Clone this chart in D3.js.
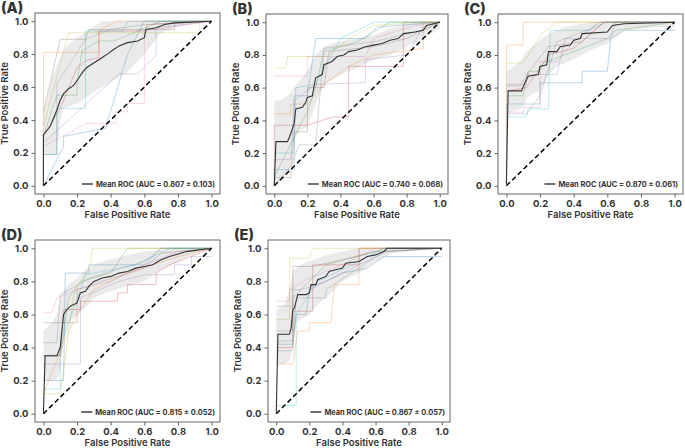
<!DOCTYPE html>
<html>
<head>
<meta charset="utf-8">
<script src="https://cdn.jsdelivr.net/npm/d3@7"></script>
<style>
  body { margin: 0; background: #fff; }
  svg { display: block; }
  text { font-family: Inter, "Liberation Sans", sans-serif; fill: #333; }
</style>
</head>
<body>
<svg id="chart" width="685" height="448"></svg>
<script>
// ---- data ----
var panelNames = ["(A)", "(B)", "(C)", "(D)", "(E)"];
var aucLabels = ["0.807 ± 0.103", "0.740 ± 0.068", "0.870 ± 0.061", "0.815 ± 0.052", "0.867 ± 0.057"];
var tickValues = [0, 0.2, 0.4, 0.6, 0.8, 1.0];
var foldColors = ["#1f77b4", "#ff7f0e", "#2ca02c", "#d62728", "#9467bd", "#8c564b", "#e377c2", "#7f7f7f", "#bcbd22", "#17becf"];

// common fpr grid for the ±1 std band
var bandFpr = [0, 0.02, 0.05, 0.08, 0.1, 0.12, 0.15, 0.2, 0.25, 0.3, 0.35, 0.4, 0.5, 0.6, 0.7, 0.8, 0.9, 1.0];
var bandHiA = [0.45, 0.52, 0.66, 0.73, 0.78, 0.82, 0.86, 0.9, 0.93, 0.97, 1, 1, 1, 1, 1, 1, 1, 1];
var bandLoA = [0.19, 0.19, 0.19, 0.19, 0.4, 0.47, 0.48, 0.5, 0.53, 0.57, 0.6, 0.63, 0.69, 0.8, 0.93, 0.97, 0.99, 1];
var bandHiB = [0.52, 0.52, 0.53, 0.55, 0.57, 0.6, 0.64, 0.7, 0.8, 0.85, 0.87, 0.88, 0.9, 0.92, 0.96, 0.99, 1, 1];
var bandLoB = [0.0, 0.02, 0.05, 0.08, 0.12, 0.28, 0.33, 0.36, 0.5, 0.62, 0.65, 0.68, 0.72, 0.77, 0.8, 0.85, 0.9, 0.96];
var bandHiC = [0.7, 0.71, 0.73, 0.76, 0.79, 0.82, 0.85, 0.89, 0.93, 0.95, 0.97, 0.98, 1, 1, 1, 1, 1, 1];
var bandLoC = [0.44, 0.45, 0.46, 0.47, 0.49, 0.53, 0.56, 0.58, 0.68, 0.73, 0.75, 0.77, 0.83, 0.87, 0.95, 0.96, 0.97, 0.97];
var bandHiD = [0.5, 0.52, 0.55, 0.6, 0.7, 0.74, 0.78, 0.82, 0.87, 0.9, 0.92, 0.93, 0.96, 0.98, 0.99, 1, 1, 1];
var bandLoD = [0.2, 0.2, 0.2, 0.21, 0.25, 0.45, 0.55, 0.6, 0.64, 0.7, 0.72, 0.74, 0.77, 0.8, 0.87, 0.92, 0.97, 1];
var bandHiE = [0.62, 0.64, 0.66, 0.75, 0.86, 0.88, 0.9, 0.92, 0.94, 0.96, 0.97, 0.98, 1, 1, 1, 1, 1, 1];
var bandLoE = [0.3, 0.3, 0.3, 0.32, 0.4, 0.55, 0.57, 0.6, 0.66, 0.7, 0.75, 0.8, 0.85, 0.92, 0.97, 0.98, 0.99, 1];

var meanA = [[0,0],[0,0.31],[0.04,0.36],[0.08,0.46],[0.1,0.52],[0.12,0.56],[0.15,0.59],[0.18,0.61],[0.2,0.64],[0.22,0.67],[0.24,0.7],[0.26,0.72],[0.29,0.74],[0.32,0.76],[0.35,0.78],[0.38,0.8],[0.42,0.83],[0.45,0.85],[0.5,0.87],[0.56,0.88],[0.6,0.9],[0.61,0.95],[0.67,0.96],[0.72,0.98],[0.78,0.99],[1,1]];
var meanB = [[0,0],[0.01,0.27],[0.08,0.27],[0.1,0.32],[0.12,0.38],[0.13,0.47],[0.17,0.48],[0.19,0.51],[0.2,0.54],[0.23,0.55],[0.25,0.66],[0.29,0.68],[0.3,0.74],[0.35,0.76],[0.38,0.79],[0.42,0.8],[0.45,0.82],[0.5,0.83],[0.55,0.85],[0.6,0.86],[0.65,0.87],[0.7,0.89],[0.75,0.9],[0.78,0.93],[0.85,0.94],[0.9,0.95],[0.92,0.98],[1,1]];
var meanC = [[0,0.01],[0.01,0.58],[0.09,0.58],[0.11,0.63],[0.13,0.67],[0.19,0.68],[0.2,0.73],[0.24,0.74],[0.25,0.82],[0.3,0.82],[0.32,0.85],[0.38,0.86],[0.4,0.89],[0.44,0.9],[0.45,0.93],[0.6,0.94],[0.63,0.98],[0.7,0.99],[1,1]];
var meanD = [[0,0],[0.01,0.35],[0.08,0.35],[0.1,0.4],[0.11,0.5],[0.12,0.6],[0.14,0.63],[0.16,0.65],[0.2,0.67],[0.22,0.73],[0.25,0.74],[0.27,0.77],[0.3,0.8],[0.35,0.82],[0.4,0.83],[0.45,0.85],[0.5,0.86],[0.55,0.88],[0.6,0.89],[0.65,0.9],[0.7,0.93],[0.75,0.95],[0.85,0.98],[1,1]];
var meanE = [[0,0],[0.01,0.48],[0.08,0.48],[0.09,0.52],[0.1,0.63],[0.11,0.64],[0.13,0.72],[0.18,0.72],[0.2,0.73],[0.21,0.78],[0.24,0.78],[0.25,0.81],[0.3,0.83],[0.32,0.86],[0.36,0.87],[0.4,0.88],[0.42,0.91],[0.5,0.92],[0.55,0.95],[0.6,0.96],[0.65,0.98],[0.67,1],[1,1]];

// fold curves, one per tab10 colour
var foldsA = [
  [[0,0],[0.12,0.24],[0.12,0.3],[0.37,0.35],[0.5,0.8],[0.6,1],[1,1]],
  [[0,0],[0,0.81],[0.33,0.81],[0.33,0.94],[0.43,1],[1,1]],
  [[0,0.3],[0.08,0.55],[0.2,0.55],[0.2,0.62],[0.23,0.82],[0.33,0.88],[0.42,0.88],[0.7,1],[1,1]],
  [[0,0.3],[0.1,0.47],[0.2,0.72],[0.25,0.76],[0.33,0.78],[0.33,0.94],[0.6,0.94],[0.62,0.98],[1,1]],
  [[0,0.26],[0.45,0.68],[0.56,0.68],[0.67,0.79],[0.67,0.96],[1,1]],
  [[0,0.45],[0.1,0.89],[0.25,0.89],[0.27,0.95],[0.78,0.95],[0.78,1],[1,1]],
  [[0,0.24],[0.26,0.38],[0.43,0.38],[0.43,0.45],[0.5,0.45],[0.5,0.5],[0.6,0.5],[0.6,0.94],[1,1]],
  [[0,0.19],[0.08,0.19],[0.08,0.62],[0.25,0.89],[0.4,0.95],[0.6,0.98],[1,1]],
  [[0,0.36],[0.15,0.93],[0.93,0.93],[0.93,1],[1,1]],
  [[0,0.19],[0.08,0.19],[0.08,0.47],[0.25,0.47],[0.25,0.94],[0.47,0.94],[0.5,1],[1,1]]
];
var foldsB = [
  [[0,0],[0,0.1],[0.12,0.1],[0.12,0.55],[0.2,0.55],[0.25,0.9],[0.55,0.9],[0.62,0.97],[1,1]],
  [[0,0.44],[0.1,0.44],[0.1,0.5],[0.2,0.5],[0.3,0.62],[0.45,0.73],[0.6,0.8],[0.9,0.84],[0.9,1],[1,1]],
  [[0,0.05],[0.12,0.3],[0.2,0.45],[0.25,0.6],[0.3,0.82],[0.5,0.88],[0.7,1],[1,1]],
  [[0,0],[0,0.37],[0.2,0.37],[0.35,0.42],[0.45,0.42],[0.45,0.73],[0.78,0.73],[0.78,1],[1,1]],
  [[0,0.16],[0.1,0.16],[0.12,0.52],[0.25,0.62],[0.55,0.63],[0.55,0.77],[0.8,0.8],[0.9,0.97],[1,1]],
  [[0,0.05],[0.1,0.05],[0.12,0.33],[0.2,0.33],[0.2,0.6],[0.3,0.6],[0.33,0.82],[0.6,0.85],[0.8,0.9],[1,1]],
  [[0,0.67],[0.2,0.67],[0.2,0.79],[0.55,0.79],[0.6,0.9],[0.85,0.98],[1,1]],
  [[0,0],[0.1,0.12],[0.15,0.25],[0.25,0.25],[0.3,0.84],[0.6,0.88],[0.9,0.95],[1,1]],
  [[0,0.72],[0.07,0.72],[0.08,0.79],[0.32,0.79],[0.45,0.9],[0.6,0.98],[0.9,1],[1,1]],
  [[0,0.2],[0.12,0.2],[0.13,0.6],[0.25,0.62],[0.4,0.9],[0.6,1],[1,1]]
];
var foldsC = [
  [[0,0],[0,0.5],[0.2,0.5],[0.2,0.63],[0.45,0.63],[0.45,0.7],[0.6,0.7],[0.62,0.9],[0.7,0.95],[1,0.95]],
  [[0,0],[0,0.86],[0.1,0.86],[0.1,1],[1,1]],
  [[0,0.55],[0.1,0.55],[0.13,0.7],[0.2,0.7],[0.22,0.75],[0.6,0.9],[0.65,0.95],[1,1]],
  [[0,0.58],[0.12,0.6],[0.25,0.8],[0.4,0.84],[0.58,1],[1,1]],
  [[0,0.62],[0.12,0.62],[0.12,0.68],[0.3,0.68],[0.35,0.9],[0.62,0.9],[0.65,1],[1,1]],
  [[0,0.61],[0.08,0.61],[0.15,0.72],[0.25,0.85],[0.45,0.88],[0.58,1],[1,1]],
  [[0,0.45],[0.1,0.45],[0.1,0.48],[0.2,0.48],[0.2,0.76],[0.3,0.76],[0.4,0.88],[0.55,1],[1,1]],
  [[0,0.44],[0.12,0.44],[0.2,0.55],[0.3,0.88],[0.6,1],[1,1]],
  [[0,0.75],[0.1,0.75],[0.21,0.93],[0.3,1],[1,1]],
  [[0,0.42],[0.12,0.42],[0.13,0.47],[0.25,0.47],[0.26,0.95],[0.5,0.95],[0.55,1],[1,1]]
];
var foldsD = [
  [[0,0.2],[0.12,0.2],[0.13,0.85],[0.27,0.85],[0.27,0.9],[0.6,0.9],[0.7,1],[1,1]],
  [[0,0.12],[0.15,0.5],[0.2,0.6],[0.3,0.75],[0.5,0.85],[0.8,0.95],[1,1]],
  [[0,0.35],[0.1,0.35],[0.15,0.7],[0.22,0.8],[0.4,0.85],[0.5,1],[1,1]],
  [[0,0.35],[0.1,0.35],[0.12,0.63],[0.22,0.63],[0.22,0.68],[0.44,0.68],[0.44,0.73],[0.5,0.73],[0.5,0.78],[0.67,0.78],[0.67,0.85],[0.75,0.9],[1,1]],
  [[0,0.3],[0.22,0.3],[0.22,0.7],[0.45,0.8],[0.6,0.84],[0.78,0.84],[0.78,0.9],[0.88,0.9],[0.88,0.95],[1,0.95]],
  [[0,0.55],[0.2,0.55],[0.2,0.75],[0.35,0.8],[0.6,0.88],[0.7,0.97],[1,1]],
  [[0,0.61],[0.05,0.61],[0.08,0.7],[0.2,0.75],[0.4,0.8],[0.6,0.9],[0.8,0.98],[1,1]],
  [[0,0.43],[0.08,0.43],[0.1,0.72],[0.3,0.83],[0.6,0.92],[0.7,1],[1,1]],
  [[0,0.12],[0.1,0.12],[0.18,0.72],[0.28,0.9],[0.29,1],[1,1]],
  [[0,0.15],[0.1,0.15],[0.1,0.4],[0.25,0.84],[0.55,0.9],[0.75,1],[1,1]]
];
var foldsE = [
  [[0,0.42],[0.1,0.42],[0.12,0.6],[0.18,0.6],[0.2,0.75],[0.4,0.85],[0.55,0.88],[0.65,0.95],[1,0.95]],
  [[0,0.3],[0.1,0.3],[0.13,0.5],[0.2,0.5],[0.2,0.55],[0.33,0.55],[0.35,0.78],[0.5,0.78],[0.5,1],[1,1]],
  [[0,0.44],[0.1,0.44],[0.1,0.7],[0.3,0.9],[0.6,0.98],[0.65,1],[1,1]],
  [[0,0.4],[0.1,0.4],[0.1,0.62],[0.22,0.62],[0.22,0.9],[0.5,0.9],[0.5,1],[1,1]],
  [[0,0.65],[0.1,0.65],[0.1,0.75],[0.15,0.75],[0.3,0.8],[0.5,0.9],[0.67,0.98],[1,1]],
  [[0,0.5],[0.1,0.5],[0.1,0.89],[0.22,0.89],[0.35,0.92],[0.6,0.98],[1,1]],
  [[0,0.68],[0.08,0.68],[0.08,0.75],[0.2,0.82],[0.4,0.9],[0.6,1],[1,1]],
  [[0,0.38],[0.1,0.38],[0.12,0.7],[0.3,0.7],[0.3,0.75],[0.45,0.85],[0.65,0.98],[1,1]],
  [[0,0.57],[0.08,0.57],[0.08,0.94],[0.2,0.94],[0.22,1],[1,1]],
  [[0,0.05],[0.12,0.05],[0.12,0.6],[0.25,0.8],[0.5,0.92],[0.65,1],[1,1]]
];

var panels = [
  { left: 35,  top: 13,  w: 185, h: 181, mean: meanA, folds: foldsA, hi: bandHiA, lo: bandLoA },
  { left: 266, top: 14,  w: 182, h: 180, mean: meanB, folds: foldsB, hi: bandHiB, lo: bandLoB },
  { left: 498, top: 14,  w: 185, h: 180, mean: meanC, folds: foldsC, hi: bandHiC, lo: bandLoC },
  { left: 35,  top: 240, w: 185, h: 182, mean: meanD, folds: foldsD, hi: bandHiD, lo: bandLoD },
  { left: 268, top: 240, w: 182, h: 182, mean: meanE, folds: foldsE, hi: bandHiE, lo: bandLoE }
];

var svg = d3.select("#chart");

panels.forEach(function (p, i) {
  var x = d3.scaleLinear().domain([-0.05, 1.05]).range([p.left, p.left + p.w]);
  var y = d3.scaleLinear().domain([-0.05, 1.05]).range([p.top + p.h, p.top]);
  var g = svg.append("g");

  // clip to plot box
  var clipId = "clip" + i;
  g.append("clipPath").attr("id", clipId)
    .append("rect").attr("x", p.left).attr("y", p.top).attr("width", p.w).attr("height", p.h);
  var plot = g.append("g").attr("clip-path", "url(#" + clipId + ")");

  var line = d3.line().x(function (d) { return x(d[0]); }).y(function (d) { return y(d[1]); });

  // folds
  p.folds.forEach(function (f, k) {
    plot.append("path").attr("d", line(f))
      .attr("fill", "none").attr("stroke", foldColors[k])
      .attr("stroke-opacity", 0.3).attr("stroke-width", 1);
  });

  // std band
  var area = d3.area()
    .x(function (d, j) { return x(bandFpr[j]); })
    .y0(function (d, j) { return y(p.lo[j]); })
    .y1(function (d, j) { return y(p.hi[j]); });
  plot.append("path").attr("d", area(bandFpr))
    .attr("fill", "#808080").attr("fill-opacity", 0.17);

  // chance line
  plot.append("line")
    .attr("x1", x(0)).attr("y1", y(0)).attr("x2", x(1)).attr("y2", y(1))
    .attr("stroke", "#000").attr("stroke-width", 1.5).attr("stroke-dasharray", "5,3");

  // mean ROC
  plot.append("path").attr("d", line(p.mean))
    .attr("fill", "none").attr("stroke", "#333").attr("stroke-width", 1.1);

  // axes
  var xAxis = d3.axisBottom(x).tickValues(tickValues).tickFormat(d3.format(".1f")).tickSize(3.5).tickPadding(3);
  var yAxis = d3.axisLeft(y).tickValues(tickValues).tickFormat(d3.format(".1f")).tickSize(3.5).tickPadding(3);
  var gx = g.append("g").attr("transform", "translate(0," + (p.top + p.h) + ")").call(xAxis);
  var gy = g.append("g").attr("transform", "translate(" + p.left + ",0)").call(yAxis);
  [gx, gy].forEach(function (ax) {
    ax.select(".domain").remove();
    ax.selectAll("line").attr("stroke", "#666");
    ax.selectAll("text").attr("font-size", 9.5).attr("font-weight", 700).attr("fill", "#333")
      .style("font-family", "Inter, 'Liberation Sans', sans-serif");
  });

  // frame
  g.append("rect").attr("x", p.left).attr("y", p.top).attr("width", p.w).attr("height", p.h)
    .attr("fill", "none").attr("stroke", "#666").attr("stroke-width", 1);

  // axis labels
  g.append("text").attr("x", p.left + p.w / 2).attr("y", p.top + p.h + 24)
    .attr("text-anchor", "middle").attr("font-size", 9.5).attr("font-weight", 600)
    .text("False Positive Rate");
  g.append("text")
    .attr("transform", "translate(" + (p.left - 27) + "," + (p.top + p.h / 2) + ") rotate(-90)")
    .attr("text-anchor", "middle").attr("font-size", 9.5).attr("font-weight", 600)
    .text("True Positive Rate");

  // panel tag
  g.append("text").attr("x", p.left - 34).attr("y", p.top - 0.5)
    .attr("font-size", 14.5).attr("font-weight", 800).attr("fill", "#111")
    .text(panelNames[i]);

  // legend, right-aligned inside the box
  var ly = p.top + p.h - 10;
  var lt = g.append("text").attr("x", p.left + p.w - 5).attr("y", ly + 2.6)
    .attr("text-anchor", "end")
    .attr("font-size", 7.4).attr("font-weight", 700).attr("fill", "#333")
    .text("Mean ROC (AUC = " + aucLabels[i] + ")");
  var tx = lt.node().getBBox().x;
  g.append("line").attr("x1", tx - 14).attr("x2", tx - 3).attr("y1", ly).attr("y2", ly)
    .attr("stroke", "#333").attr("stroke-width", 1.4);
});
</script>
</body>
</html>
